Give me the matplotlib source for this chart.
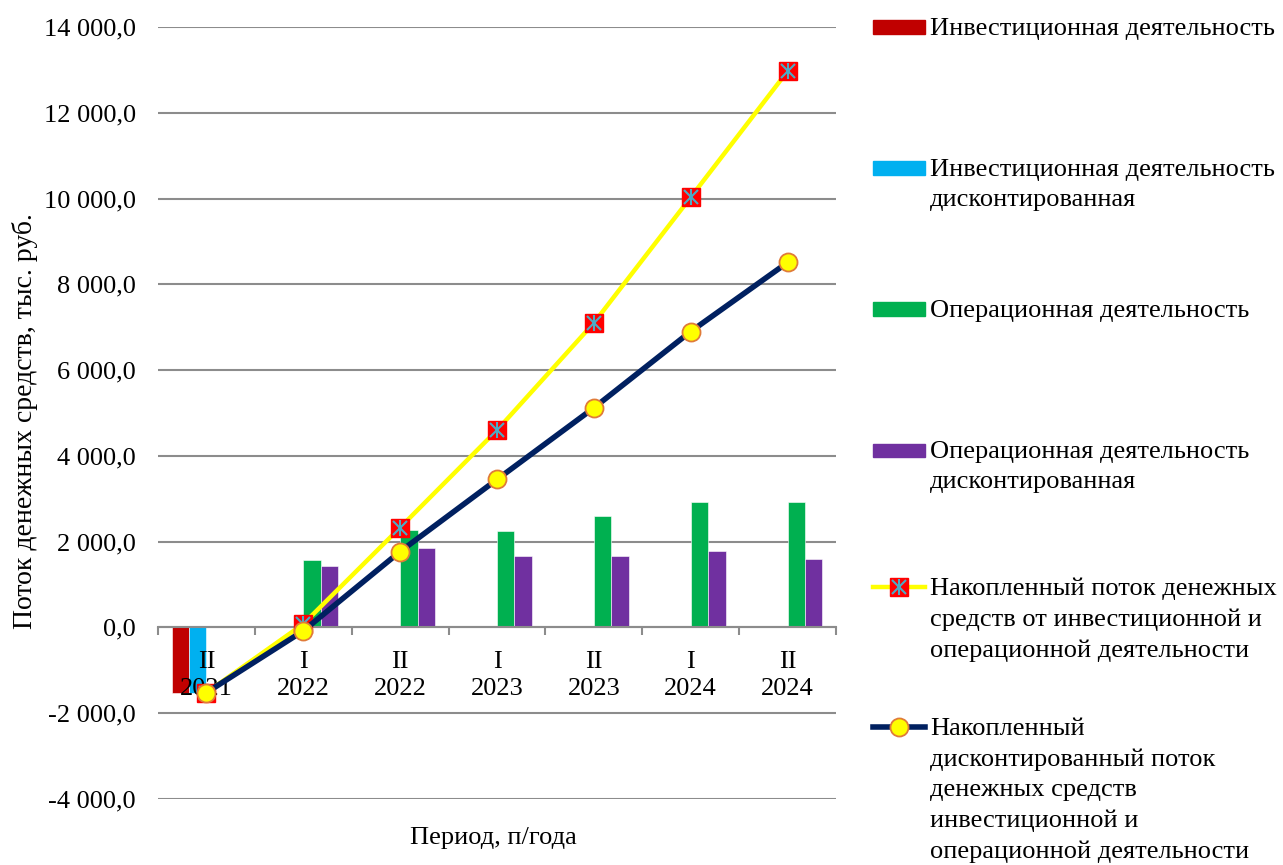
import matplotlib; matplotlib.use('Agg')
import matplotlib.pyplot as plt
import numpy as np
from matplotlib.patches import Rectangle
from matplotlib.lines import Line2D
from matplotlib.ticker import FuncFormatter

plt.rcParams['font.family'] = ['Liberation Serif', 'DejaVu Serif']

periods = ['II\n2021', 'I\n2022', 'II\n2022', 'I\n2023', 'II\n2023', 'I\n2024', 'II\n2024']
invest = [-1520, 0, 0, 0, 0, 0, 0]
invest_disc = [-1520, 0, 0, 0, 0, 0, 0]
oper = [0, 1580, 2263, 2247, 2590, 2933, 2933]
oper_disc = [0, 1423, 1860, 1664, 1657, 1773, 1603]
cum_flow = [-1520, 80, 2330, 4600, 7100, 10030, 12970]
cum_disc = [-1520, -80, 1770, 3450, 5120, 6900, 8510]

labels = ['Инвестиционная деятельность',
          'Инвестиционная деятельность\nдисконтированная',
          'Операционная деятельность',
          'Операционная деятельность\nдисконтированная',
          'Накопленный поток денежных\nсредств от инвестиционной и\nоперационной деятельности',
          'Накопленный\nдисконтированный поток\nденежных средств\nинвестиционной и\nоперационной деятельности']

RED = '#C00000'; CYAN = '#00B0F0'; GREEN = '#00B050'; PURPLE = '#7030A0'
YEL = '#FFFF00'; NAVY = '#002060'; GRID = '#8C8C8C'
SQ = '#FF0000'; STAR = '#4BACC6'; RING = '#E07B39'
FS = 19

fig = plt.figure(figsize=(12.83, 8.65), dpi=100)
ax = fig.add_axes([158/1283, 1-799/865, (836-158)/1283, (799-27)/865])

x = np.arange(len(periods))
w = 0.18
bar_series = [(invest, RED), (invest_disc, CYAN), (oper, GREEN), (oper_disc, PURPLE)]
for k, (vals, col) in enumerate(bar_series):
    ax.bar(x + (k - 1.5) * w, vals, w, color=col, edgecolor='white', lw=0.4, zorder=2)


def star_marker(axis, xs, ys, **kw):
    # Excel-style star: square with an "x" and a vertical bar on top
    axis.plot(xs, ys, ls='none', marker='s', ms=13, mfc=SQ, mec=SQ, **kw)
    axis.plot(xs, ys, ls='none', marker='x', ms=10, mec=STAR, mew=1.5, **kw)
    axis.plot(xs, ys, ls='none', marker='|', ms=12, mec=STAR, mew=1.5, **kw)


ax.plot(x, cum_flow, color=YEL, lw=3.2, zorder=3)
star_marker(ax, x, cum_flow, zorder=4)
ax.plot(x, cum_disc, color=NAVY, lw=4, zorder=6)
ax.plot(x, cum_disc, ls='none', marker='o', ms=13, mfc=YEL, mec=RING, mew=1.3, zorder=7)

ax.set_xlim(-0.5, len(periods) - 0.5)
ax.set_ylim(-4000, 14000)
ax.set_yticks(np.arange(-4000, 14001, 2000))
ax.yaxis.set_major_formatter(FuncFormatter(lambda v, p: f'{v:,.1f}'.replace(',', ' ').replace('.', ',')))
ax.yaxis.grid(True, color=GRID, lw=1.5, zorder=0)
ax.tick_params(axis='y', length=0, pad=16, labelsize=FS)

for s in ['left', 'right', 'top']:
    ax.spines[s].set_visible(False)
ax.spines['bottom'].set_position(('data', 0))
ax.spines['bottom'].set_color(GRID)
ax.spines['bottom'].set_linewidth(1.5)
ax.set_xticks(np.arange(-0.5, len(periods), 1.0))
ax.set_xticklabels([])
ax.tick_params(axis='x', which='major', length=6, width=1.5, color=GRID, direction='out')

# period labels sit under the zero line, above the bars but under the line markers
for xi, p in zip(x, periods):
    ax.annotate(p, xy=(xi, 0), xytext=(0, -17), textcoords='offset points',
                ha='center', va='top', size=FS, linespacing=1.3, zorder=2.5)

fig.text(25/1283, 1-421/865, 'Поток денежных средств, тыс. руб.', rotation=90,
         ha='center', va='center', size=20)
fig.text(493/1283, 1-838/865, 'Период, п/года', ha='center', va='center', size=FS)

# legend drawn by hand, entries spaced evenly down the right side
tops = [27, 168, 309, 450, 587, 727]
H, W = 1283, 865
for i, (lab, top) in enumerate(zip(labels, tops)):
    yc = 1 - top / W
    if i < 4:
        col = [RED, CYAN, GREEN, PURPLE][i]
        fig.add_artist(Rectangle((873/H, yc - 6.5/W), 52/H, 13/W, color=col, transform=fig.transFigure))
    elif i == 4:
        fig.add_artist(Line2D([873/H, 925/H], [yc, yc], color=YEL, lw=3.2, transform=fig.transFigure))
        fig.add_artist(Line2D([899/H], [yc], marker='s', ms=13, mfc=SQ, mec=SQ, transform=fig.transFigure))
        fig.add_artist(Line2D([899/H], [yc], marker='x', ms=10, mec=STAR, mew=1.5, transform=fig.transFigure))
        fig.add_artist(Line2D([899/H], [yc], marker='|', ms=12, mec=STAR, mew=1.5, transform=fig.transFigure))
    else:
        fig.add_artist(Line2D([873/H, 925/H], [yc, yc], color=NAVY, lw=4, transform=fig.transFigure))
        fig.add_artist(Line2D([899/H], [yc], marker='o', ms=13, mfc=YEL, mec=RING, mew=1.3, transform=fig.transFigure))
    fig.text(930/H, yc + 9/W, lab, ha='left', va='top', size=FS, linespacing=1.48)

fig.savefig('out.png', dpi=100, facecolor='white')
